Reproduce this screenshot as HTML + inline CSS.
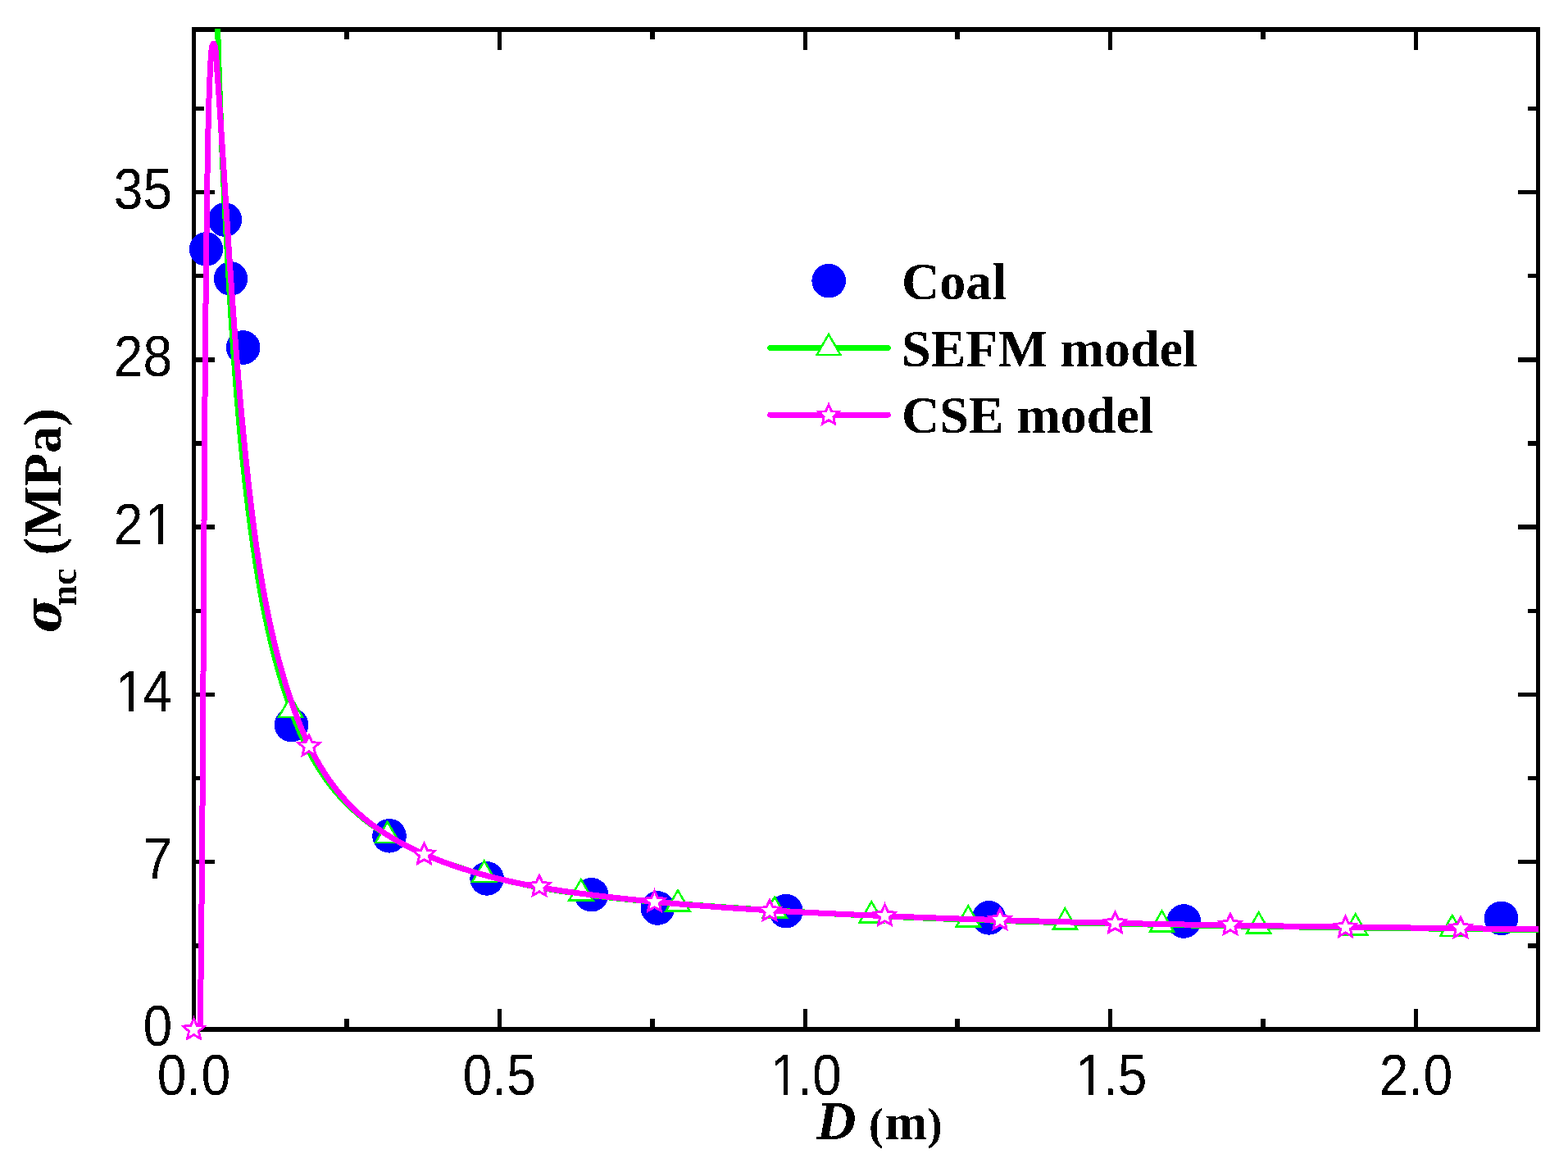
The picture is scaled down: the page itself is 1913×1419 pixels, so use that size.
<!DOCTYPE html>
<html><head><meta charset="utf-8"><title>Size effect plot</title>
<style>html,body{margin:0;padding:0;background:#fff;}body{width:1913px;height:1419px;overflow:hidden;}svg{display:block;}</style>
</head><body>
<svg width="1913" height="1419" viewBox="0 0 1913 1419" shape-rendering="crispEdges"><defs><clipPath id="pc"><rect x="236.5" y="35" width="1641.5" height="1221"/></clipPath><filter id="bin" x="0" y="0" width="1913" height="1419" filterUnits="userSpaceOnUse" color-interpolation-filters="sRGB"><feComponentTransfer><feFuncA type="discrete" tableValues="0 1"/></feComponentTransfer></filter></defs><rect width="1913" height="1419" fill="#fff"/><g fill="#000"><rect x="234" y="33" width="1645" height="6"/><rect x="234" y="1253" width="1645" height="6"/><rect x="234" y="33" width="5" height="1226"/><rect x="1874" y="33" width="5" height="1226"/><rect x="419.88" y="1243" width="6" height="13"/><rect x="419.88" y="36" width="6" height="12"/><rect x="606.75" y="1231" width="5" height="25"/><rect x="606.75" y="36" width="5" height="25"/><rect x="792.62" y="1243" width="6" height="13"/><rect x="792.62" y="36" width="6" height="12"/><rect x="979.50" y="1231" width="5" height="25"/><rect x="979.50" y="36" width="5" height="25"/><rect x="1165.38" y="1243" width="6" height="13"/><rect x="1165.38" y="36" width="6" height="12"/><rect x="1352.25" y="1231" width="5" height="25"/><rect x="1352.25" y="36" width="5" height="25"/><rect x="1538.12" y="1243" width="6" height="13"/><rect x="1538.12" y="36" width="6" height="12"/><rect x="1725.00" y="1231" width="5" height="25"/><rect x="1725.00" y="36" width="5" height="25"/><rect x="236.5" y="1151.10" width="12.5" height="5.5"/><rect x="1864.0" y="1151.10" width="12.5" height="5.5"/><rect x="236.5" y="1048.95" width="25.5" height="5.5"/><rect x="1851.8" y="1048.95" width="24.7" height="5.5"/><rect x="236.5" y="946.80" width="12.5" height="5.5"/><rect x="1864.0" y="946.80" width="12.5" height="5.5"/><rect x="236.5" y="844.65" width="25.5" height="5.5"/><rect x="1851.8" y="844.65" width="24.7" height="5.5"/><rect x="236.5" y="742.50" width="12.5" height="5.5"/><rect x="1864.0" y="742.50" width="12.5" height="5.5"/><rect x="236.5" y="640.34" width="25.5" height="5.5"/><rect x="1851.8" y="640.34" width="24.7" height="5.5"/><rect x="236.5" y="538.19" width="12.5" height="5.5"/><rect x="1864.0" y="538.19" width="12.5" height="5.5"/><rect x="236.5" y="436.04" width="25.5" height="5.5"/><rect x="1851.8" y="436.04" width="24.7" height="5.5"/><rect x="236.5" y="333.89" width="12.5" height="5.5"/><rect x="1864.0" y="333.89" width="12.5" height="5.5"/><rect x="236.5" y="231.74" width="25.5" height="5.5"/><rect x="1851.8" y="231.74" width="24.7" height="5.5"/><rect x="236.5" y="129.59" width="12.5" height="5.5"/><rect x="1864.0" y="129.59" width="12.5" height="5.5"/></g><g filter="url(#bin)"><g font-family="Liberation Sans, Arial, sans-serif" font-size="70" fill="#000"><text x="0.000 38.931 58.379" y="1335.80" transform="translate(191.835,0) scale(0.918,1)">0.0</text><text x="0.000 38.931 58.379" y="1335.80" transform="translate(564.585,0) scale(0.918,1)">0.5</text><text x="2.288 38.931 58.379" y="1335.80" transform="translate(937.335,0) scale(0.918,1)">1.0</text><text x="2.288 38.931 58.379" y="1335.80" transform="translate(1310.085,0) scale(0.918,1)">1.5</text><text x="0.000 38.931 58.379" y="1335.80" transform="translate(1682.835,0) scale(0.918,1)">2.0</text><text x="0.000" y="1276.50" transform="translate(174.562,0) scale(0.918,1)">0</text><text x="0.000" y="1072.20" transform="translate(174.562,0) scale(0.918,1)">7</text><text x="2.288 38.931" y="867.90" transform="translate(138.823,0) scale(0.918,1)">14</text><text x="0.000 41.218" y="663.59" transform="translate(138.823,0) scale(0.918,1)">21</text><text x="0.000 38.931" y="459.29" transform="translate(138.823,0) scale(0.918,1)">28</text><text x="0.000 38.931" y="254.99" transform="translate(138.823,0) scale(0.918,1)">35</text></g><g fill="#fff"><rect x="942.89" y="1329.31" width="12.68" height="7.35"/><rect x="961.30" y="1329.31" width="12.17" height="7.35"/><rect x="1315.64" y="1329.31" width="12.68" height="7.35"/><rect x="1334.05" y="1329.31" width="12.17" height="7.35"/><rect x="144.37" y="861.40" width="12.68" height="7.35"/><rect x="162.79" y="861.40" width="12.17" height="7.35"/><rect x="180.11" y="657.10" width="12.68" height="7.35"/><rect x="198.53" y="657.10" width="12.17" height="7.35"/></g><text y="1389.8" font-family="Liberation Serif, Times New Roman, serif" font-weight="bold" fill="#000"><tspan x="996" font-style="italic" font-size="67">D</tspan> <tspan x="1060" font-size="54">(</tspan><tspan x="1079.8" font-size="62">m</tspan><tspan x="1131.5" font-size="54">)</tspan></text><text transform="rotate(-90)" font-weight="bold" fill="#000"><tspan x="-772" y="73.5" font-family="DejaVu Serif, serif" font-stretch="condensed" font-style="italic" font-size="64">σ</tspan><tspan x="-739.5" y="93" font-family="Liberation Serif, serif" font-size="46">nc</tspan> <tspan x="-677.5" y="73.5" font-family="Liberation Serif, serif" font-size="66">(MPa)</tspan></text></g><g fill="#0000ff"><circle cx="251.5" cy="304" r="20.8"/><circle cx="274.4" cy="268" r="20.8"/><circle cx="281.5" cy="340" r="20.8"/><circle cx="296.7" cy="424" r="20.8"/><circle cx="355.5" cy="884.5" r="20.8"/><circle cx="475" cy="1019.8" r="20.8"/><circle cx="594.1" cy="1071.9" r="20.8"/><circle cx="721.6" cy="1091.7" r="20.8"/><circle cx="802.4" cy="1108" r="20.8"/><circle cx="958.9" cy="1111.7" r="20.8"/><circle cx="1206.5" cy="1119.9" r="20.8"/><circle cx="1444.3" cy="1124" r="20.8"/><circle cx="1831.6" cy="1120.4" r="20.8"/></g><path d="M265.33,19.96 L265.36,21.51 L265.40,23.05 L265.43,24.60 L265.47,26.15 L265.51,27.69 L265.54,29.24 L265.58,30.79 L265.62,32.33 L265.66,33.88 L265.70,35.43 L265.73,36.97 L265.77,38.52 L265.81,40.06 L265.85,41.61 L265.89,43.15 L265.93,44.70 L265.97,46.24 L266.01,47.79 L266.06,49.33 L266.10,50.88 L266.14,52.43 L266.18,53.97 L266.23,55.51 L266.27,57.06 L266.31,58.60 L266.36,60.15 L266.40,61.69 L266.45,63.24 L266.49,64.78 L266.54,66.33 L266.58,67.87 L266.63,69.42 L266.68,70.96 L266.72,72.50 L266.77,74.05 L266.82,75.59 L266.86,77.14 L266.91,78.68 L266.96,80.22 L267.01,81.77 L267.06,83.31 L267.11,84.85 L267.16,86.40 L267.21,87.94 L267.26,89.48 L267.31,91.03 L267.36,92.57 L267.41,94.11 L267.46,95.66 L267.52,97.20 L267.57,98.74 L267.62,100.29 L267.68,101.83 L267.73,103.37 L267.78,104.91 L267.84,106.46 L267.89,108.00 L267.95,109.54 L268.00,111.08 L268.06,112.63 L268.11,114.17 L268.17,115.71 L268.22,117.25 L268.28,118.80 L268.34,120.34 L268.39,121.88 L268.45,123.42 L268.51,124.97 L268.57,126.51 L268.63,128.05 L268.69,129.59 L268.74,131.13 L268.80,132.67 L268.86,134.22 L268.92,135.76 L268.98,137.30 L269.04,138.84 L269.10,140.38 L269.17,141.93 L269.23,143.47 L269.29,145.01 L269.35,146.55 L269.41,148.09 L269.48,149.63 L269.54,151.17 L269.60,152.72 L269.67,154.26 L269.73,155.80 L269.79,157.34 L269.86,158.88 L269.92,160.42 L269.99,161.96 L270.05,163.50 L270.12,165.04 L270.18,166.59 L270.25,168.13 L270.31,169.67 L270.38,171.21 L270.45,172.75 L270.51,174.29 L270.58,175.83 L270.65,177.37 L270.72,178.91 L270.79,180.45 L270.85,181.99 L270.92,183.54 L270.99,185.08 L271.06,186.62 L271.13,188.16 L271.20,189.70 L271.27,191.24 L271.34,192.78 L271.41,194.32 L271.48,195.86 L271.55,197.40 L271.62,198.94 L271.69,200.48 L271.77,202.02 L271.84,203.56 L271.91,205.10 L271.98,206.64 L272.06,208.19 L272.13,209.73 L272.20,211.27 L272.28,212.81 L272.35,214.35 L272.42,215.89 L272.50,217.43 L272.57,218.97 L272.65,220.51 L272.72,222.05 L272.80,223.59 L272.87,225.13 L272.95,226.67 L273.02,228.21 L273.10,229.75 L273.18,231.29 L273.25,232.83 L273.33,234.37 L273.41,235.91 L273.48,237.45 L273.56,238.99 L273.64,240.53 L273.72,242.07 L273.79,243.62 L273.87,245.16 L273.95,246.70 L274.03,248.24 L274.11,249.78 L274.19,251.32 L274.27,252.86 L274.35,254.40 L274.43,255.94 L274.51,257.48 L274.59,259.02 L274.67,260.56 L274.75,262.10 L274.83,263.64 L274.91,265.18 L274.99,266.72 L275.07,268.26 L275.15,269.80 L275.24,271.34 L275.32,272.88 L275.40,274.43 L275.48,275.97 L275.57,277.51 L275.65,279.05 L275.73,280.59 L275.82,282.13 L275.90,283.67 L275.98,285.21 L276.07,286.75 L276.15,288.29 L276.23,289.83 L276.32,291.37 L276.40,292.91 L276.49,294.46 L276.57,296.00 L276.66,297.54 L276.74,299.08 L276.83,300.62 L276.92,302.16 L277.00,303.70 L277.09,305.24 L277.17,306.78 L277.26,308.32 L277.35,309.87 L277.43,311.41 L277.52,312.95 L277.61,314.49 L277.70,316.03 L277.78,317.57 L277.87,319.11 L277.96,320.66 L278.05,322.20 L278.13,323.74 L278.22,325.28 L278.31,326.82 L278.40,328.36 L278.49,329.90 L278.58,331.45 L278.67,332.99 L278.76,334.53 L278.85,336.07 L278.94,337.61 L279.03,339.16 L279.12,340.70 L279.21,342.24 L279.30,343.78 L279.39,345.32 L279.48,346.86 L279.57,348.41 L279.67,349.95 L279.76,351.49 L279.85,353.03 L279.94,354.57 L280.04,356.12 L280.13,357.66 L280.22,359.20 L280.32,360.74 L280.41,362.28 L280.50,363.83 L280.60,365.37 L280.69,366.91 L280.79,368.45 L280.88,369.99 L280.98,371.54 L281.08,373.08 L281.17,374.62 L281.27,376.16 L281.37,377.70 L281.46,379.25 L281.56,380.79 L281.66,382.33 L281.76,383.87 L281.85,385.41 L281.95,386.96 L282.05,388.50 L282.15,390.04 L282.25,391.58 L282.35,393.12 L282.45,394.67 L282.55,396.21 L282.65,397.75 L282.76,399.29 L282.86,400.83 L282.96,402.38 L283.06,403.92 L283.17,405.46 L283.27,407.00 L283.37,408.54 L283.48,410.09 L283.58,411.63 L283.69,413.17 L283.79,414.71 L283.90,416.25 L284.00,417.79 L284.11,419.34 L284.22,420.88 L284.32,422.42 L284.43,423.96 L284.54,425.50 L284.65,427.04 L284.76,428.59 L284.87,430.13 L284.97,431.67 L285.08,433.21 L285.20,434.75 L285.31,436.29 L285.42,437.83 L285.53,439.37 L285.64,440.92 L285.76,442.46 L285.87,444.00 L285.98,445.54 L286.10,447.08 L286.21,448.62 L286.33,450.16 L286.44,451.70 L286.56,453.24 L286.67,454.78 L286.79,456.33 L286.91,457.87 L287.03,459.41 L287.15,460.95 L287.26,462.49 L287.38,464.03 L287.50,465.57 L287.62,467.11 L287.75,468.65 L287.87,470.19 L287.99,471.73 L288.11,473.27 L288.23,474.81 L288.36,476.35 L288.48,477.89 L288.61,479.43 L288.73,480.97 L288.86,482.51 L288.98,484.05 L289.11,485.59 L289.24,487.13 L289.37,488.67 L289.49,490.21 L289.62,491.75 L289.75,493.29 L289.88,494.82 L290.01,496.36 L290.15,497.90 L290.28,499.44 L290.41,500.98 L290.54,502.52 L290.68,504.06 L290.81,505.60 L290.95,507.14 L291.08,508.67 L291.22,510.21 L291.35,511.75 L291.49,513.29 L291.63,514.83 L291.77,516.37 L291.91,517.90 L292.05,519.44 L292.19,520.98 L292.33,522.52 L292.47,524.05 L292.61,525.59 L292.75,527.13 L292.90,528.67 L293.04,530.20 L293.19,531.74 L293.33,533.28 L293.48,534.82 L293.63,536.35 L293.77,537.89 L293.92,539.43 L294.07,540.96 L294.22,542.50 L294.37,544.03 L294.52,545.57 L294.67,547.11 L294.82,548.64 L294.98,550.18 L295.13,551.71 L295.29,553.25 L295.44,554.79 L295.60,556.32 L295.75,557.86 L295.91,559.39 L296.07,560.93 L296.23,562.46 L296.39,564.00 L296.55,565.53 L296.71,567.07 L296.87,568.60 L297.03,570.14 L297.19,571.67 L297.36,573.20 L297.52,574.74 L297.69,576.27 L297.85,577.81 L298.02,579.34 L298.19,580.87 L298.35,582.41 L298.52,583.94 L298.69,585.47 L298.86,587.01 L299.04,588.54 L299.21,590.07 L299.38,591.60 L299.55,593.14 L299.73,594.67 L299.90,596.20 L300.08,597.73 L300.26,599.27 L300.43,600.80 L300.61,602.33 L300.79,603.86 L300.97,605.39 L301.15,606.92 L301.34,608.46 L301.52,609.99 L301.70,611.52 L301.89,613.05 L302.07,614.58 L302.26,616.11 L302.44,617.64 L302.63,619.17 L302.82,620.70 L303.01,622.23 L303.20,623.76 L303.39,625.29 L303.58,626.82 L303.78,628.35 L303.97,629.88 L304.16,631.40 L304.36,632.93 L304.56,634.46 L304.75,635.99 L304.95,637.52 L305.15,639.05 L305.35,640.57 L305.55,642.10 L305.75,643.63 L305.95,645.16 L306.16,646.68 L306.36,648.21 L306.57,649.74 L306.77,651.26 L306.98,652.79 L307.19,654.32 L307.40,655.84 L307.61,657.37 L307.82,658.90 L308.03,660.42 L308.25,661.95 L308.46,663.47 L308.68,665.00 L308.90,666.52 L309.11,668.05 L309.33,669.57 L309.55,671.09 L309.78,672.62 L310.00,674.14 L310.22,675.67 L310.45,677.19 L310.68,678.71 L310.90,680.24 L311.13,681.76 L311.37,683.28 L311.60,684.80 L311.83,686.32 L312.07,687.85 L312.30,689.37 L312.54,690.89 L312.78,692.41 L313.02,693.93 L313.26,695.45 L313.51,696.97 L313.75,698.49 L314.00,700.01 L314.25,701.53 L314.50,703.05 L314.75,704.57 L315.00,706.09 L315.26,707.60 L315.51,709.12 L315.77,710.64 L316.03,712.16 L316.29,713.67 L316.56,715.19 L316.82,716.71 L317.09,718.22 L317.36,719.74 L317.63,721.26 L317.90,722.77 L318.17,724.29 L318.45,725.80 L318.73,727.31 L319.00,728.83 L319.29,730.34 L319.57,731.86 L319.85,733.37 L320.14,734.88 L320.43,736.39 L320.72,737.91 L321.01,739.42 L321.31,740.93 L321.61,742.44 L321.90,743.95 L322.21,745.46 L322.51,746.97 L322.81,748.48 L323.12,749.99 L323.43,751.50 L323.74,753.01 L324.06,754.52 L324.37,756.03 L324.69,757.53 L325.01,759.04 L325.33,760.55 L325.66,762.05 L325.98,763.56 L326.31,765.06 L326.65,766.57 L326.98,768.08 L327.32,769.58 L327.65,771.08 L328.00,772.59 L328.34,774.09 L328.69,775.59 L329.03,777.10 L329.38,778.60 L329.74,780.10 L330.09,781.60 L330.45,783.10 L330.81,784.60 L331.17,786.10 L331.54,787.60 L331.91,789.10 L332.28,790.60 L332.65,792.10 L333.03,793.60 L333.41,795.09 L333.79,796.59 L334.17,798.09 L334.56,799.58 L334.95,801.08 L335.34,802.58 L335.74,804.07 L336.13,805.56 L336.53,807.06 L336.94,808.55 L337.34,810.05 L337.75,811.54 L338.16,813.03 L338.58,814.52 L339.00,816.01 L339.42,817.50 L339.84,818.99 L340.27,820.48 L340.69,821.97 L341.13,823.46 L341.56,824.95 L342.00,826.44 L342.44,827.92 L342.88,829.41 L343.33,830.90 L343.78,832.38 L344.24,833.87 L344.69,835.35 L345.15,836.84 L345.61,838.32 L346.08,839.80 L346.55,841.29 L347.02,842.77 L347.50,844.25 L347.98,845.73 L348.46,847.21 L348.94,848.69 L349.43,850.17 L349.92,851.65 L350.42,853.12 L350.92,854.60 L351.43,856.07 L351.93,857.55 L352.44,859.02 L352.96,860.49 L353.48,861.96 L354.00,863.42 L354.53,864.89 L355.06,866.36 L355.60,867.82 L356.14,869.28 L356.68,870.74 L357.23,872.20 L357.78,873.66 L358.34,875.11 L358.90,876.56 L359.47,878.01 L360.04,879.46 L360.62,880.91 L361.20,882.35 L361.78,883.80 L362.37,885.24 L362.97,886.67 L363.57,888.11 L364.17,889.54 L364.79,890.97 L365.40,892.40 L366.02,893.83 L366.65,895.25 L367.28,896.67 L367.92,898.08 L368.56,899.50 L369.21,900.91 L369.86,902.32 L370.52,903.72 L371.18,905.12 L371.85,906.52 L372.53,907.92 L373.21,909.31 L373.90,910.70 L374.59,912.09 L375.29,913.47 L376.00,914.85 L376.71,916.22 L377.43,917.59 L378.15,918.96 L378.88,920.33 L379.62,921.69 L380.36,923.04 L381.11,924.40 L381.87,925.75 L382.63,927.09 L383.40,928.43 L384.18,929.77 L384.96,931.10 L385.75,932.43 L386.55,933.75 L387.35,935.07 L388.16,936.39 L388.98,937.70 L389.80,939.00 L390.64,940.30 L391.47,941.60 L392.32,942.89 L393.17,944.18 L394.03,945.46 L394.90,946.73 L395.77,948.00 L396.65,949.26 L397.54,950.52 L398.44,951.77 L399.34,953.02 L400.25,954.26 L401.17,955.49 L402.09,956.72 L403.02,957.93 L403.96,959.15 L404.91,960.35 L405.86,961.55 L406.82,962.74 L407.79,963.93 L408.76,965.10 L409.75,966.27 L410.74,967.43 L411.73,968.58 L412.74,969.73 L413.75,970.87 L414.77,972.00 L415.79,973.12 L416.82,974.24 L417.86,975.35 L418.91,976.45 L419.96,977.54 L421.02,978.63 L422.09,979.71 L423.16,980.78 L424.24,981.85 L425.33,982.90 L426.42,983.96 L427.52,985.00 L428.63,986.04 L429.74,987.07 L430.86,988.09 L431.98,989.10 L433.11,990.11 L434.25,991.11 L435.39,992.11 L436.54,993.10 L437.70,994.08 L438.86,995.05 L440.02,996.02 L441.20,996.98 L442.38,997.94 L443.56,998.88 L444.75,999.82 L445.95,1000.76 L447.15,1001.69 L448.35,1002.61 L449.57,1003.52 L450.79,1004.43 L452.01,1005.33 L453.24,1006.23 L454.47,1007.12 L455.71,1008.00 L456.95,1008.88 L458.20,1009.75 L459.46,1010.61 L460.72,1011.47 L461.98,1012.32 L463.25,1013.16 L464.53,1014.00 L465.81,1014.84 L467.09,1015.66 L468.38,1016.48 L469.67,1017.30 L470.97,1018.11 L472.27,1018.91 L473.58,1019.71 L474.89,1020.50 L476.21,1021.28 L477.53,1022.06 L478.86,1022.83 L480.18,1023.60 L481.52,1024.36 L482.86,1025.12 L484.20,1025.87 L485.54,1026.62 L486.89,1027.35 L488.25,1028.09 L489.61,1028.82 L490.97,1029.54 L492.33,1030.25 L493.70,1030.97 L495.07,1031.67 L496.45,1032.37 L497.83,1033.07 L499.22,1033.76 L500.60,1034.44 L501.99,1035.12 L503.39,1035.79 L504.79,1036.46 L506.19,1037.13 L507.59,1037.78 L509.00,1038.44 L510.41,1039.09 L511.82,1039.73 L513.24,1040.37 L514.66,1041.00 L516.08,1041.63 L517.51,1042.25 L518.94,1042.87 L520.37,1043.48 L521.80,1044.09 L523.24,1044.69 L524.68,1045.29 L526.12,1045.88 L527.57,1046.47 L529.02,1047.06 L530.47,1047.64 L531.92,1048.21 L533.37,1048.78 L534.83,1049.35 L536.29,1049.91 L537.75,1050.46 L539.21,1051.02 L540.68,1051.56 L542.15,1052.11 L543.62,1052.65 L545.09,1053.18 L546.56,1053.71 L548.04,1054.24 L549.52,1054.76 L550.99,1055.27 L552.48,1055.79 L553.96,1056.29 L555.44,1056.80 L556.93,1057.30 L558.41,1057.80 L559.90,1058.29 L561.39,1058.78 L562.88,1059.26 L564.38,1059.74 L565.87,1060.22 L567.37,1060.69 L568.86,1061.16 L570.36,1061.62 L571.86,1062.08 L573.36,1062.54 L574.86,1062.99 L576.36,1063.44 L577.86,1063.88 L579.36,1064.33 L580.87,1064.76 L582.37,1065.20 L583.88,1065.63 L585.38,1066.06 L586.89,1066.48 L588.39,1066.90 L589.90,1067.32 L591.41,1067.73 L592.92,1068.14 L594.42,1068.55 L595.93,1068.95 L597.44,1069.35 L598.95,1069.75 L600.46,1070.14 L601.97,1070.53 L603.48,1070.91 L604.99,1071.30 L606.50,1071.68 L608.01,1072.05 L609.52,1072.43 L611.03,1072.80 L612.55,1073.17 L614.06,1073.53 L615.57,1073.89 L617.09,1074.25 L618.60,1074.60 L620.11,1074.95 L621.63,1075.30 L623.14,1075.65 L624.66,1075.99 L626.17,1076.33 L627.69,1076.67 L629.20,1077.00 L630.72,1077.33 L632.24,1077.66 L633.75,1077.98 L635.27,1078.31 L636.79,1078.63 L638.30,1078.94 L639.82,1079.26 L641.34,1079.57 L642.86,1079.87 L644.38,1080.18 L645.90,1080.48 L647.42,1080.78 L648.93,1081.08 L650.45,1081.37 L651.97,1081.67 L653.50,1081.96 L655.02,1082.24 L656.54,1082.53 L658.06,1082.81 L659.58,1083.09 L661.10,1083.36 L662.62,1083.64 L664.15,1083.91 L665.67,1084.18 L667.19,1084.44 L668.71,1084.71 L670.24,1084.97 L671.76,1085.23 L673.29,1085.49 L674.81,1085.74 L676.33,1085.99 L677.86,1086.24 L679.38,1086.49 L680.91,1086.74 L682.43,1086.98 L683.96,1087.22 L685.48,1087.46 L687.01,1087.69 L688.54,1087.93 L690.06,1088.16 L691.59,1088.39 L693.12,1088.62 L694.64,1088.84 L696.17,1089.07 L697.70,1089.29 L699.23,1089.51 L700.75,1089.73 L702.28,1089.94 L703.81,1090.16 L705.34,1090.37 L706.87,1090.58 L708.40,1090.79 L709.93,1090.99 L711.46,1091.20 L712.99,1091.40 L714.52,1091.60 L716.05,1091.80 L717.58,1091.99 L719.11,1092.19 L720.64,1092.38 L722.17,1092.57 L723.70,1092.76 L725.23,1092.95 L726.76,1093.14 L728.29,1093.32 L729.82,1093.51 L731.35,1093.69 L732.89,1093.87 L734.42,1094.05 L735.95,1094.22 L737.48,1094.40 L739.01,1094.57 L740.55,1094.75 L742.08,1094.92 L743.61,1095.09 L745.15,1095.25 L746.68,1095.42 L748.21,1095.59 L749.75,1095.75 L751.28,1095.91 L752.81,1096.07 L754.35,1096.23 L755.88,1096.39 L757.42,1096.55 L758.95,1096.70 L760.48,1096.86 L762.02,1097.01 L763.55,1097.16 L765.09,1097.32 L766.62,1097.47 L768.16,1097.61 L769.69,1097.76 L771.23,1097.91 L772.76,1098.05 L774.30,1098.20 L775.84,1098.34 L777.37,1098.48 L778.91,1098.63 L780.44,1098.77 L781.98,1098.91 L783.51,1099.04 L785.05,1099.18 L786.59,1099.32 L788.12,1099.45 L789.66,1099.59 L791.20,1099.72 L792.73,1099.86 L794.27,1099.99 L795.81,1100.12 L797.34,1100.25 L798.88,1100.38 L800.42,1100.51 L801.95,1100.64 L803.49,1100.77 L805.03,1100.90 L806.57,1101.02 L808.10,1101.15 L809.64,1101.27 L811.18,1101.40 L812.71,1101.52 L814.25,1101.65 L815.79,1101.77 L817.33,1101.89 L818.86,1102.02 L820.40,1102.14 L821.94,1102.26 L823.48,1102.38 L825.02,1102.50 L826.55,1102.62 L828.09,1102.74 L829.63,1102.86 L831.17,1102.98 L832.70,1103.10 L834.24,1103.22 L835.78,1103.34 L837.32,1103.45 L838.86,1103.57 L840.39,1103.69 L841.93,1103.81 L843.47,1103.92 L845.01,1104.04 L846.55,1104.15 L848.09,1104.27 L849.62,1104.38 L851.16,1104.50 L852.70,1104.61 L854.24,1104.73 L855.78,1104.84 L857.31,1104.95 L858.85,1105.07 L860.39,1105.18 L861.93,1105.29 L863.47,1105.40 L865.01,1105.51 L866.55,1105.63 L868.08,1105.74 L869.62,1105.85 L871.16,1105.96 L872.70,1106.07 L874.24,1106.18 L875.78,1106.29 L877.32,1106.39 L878.85,1106.50 L880.39,1106.61 L881.93,1106.72 L883.47,1106.83 L885.01,1106.93 L886.55,1107.04 L888.09,1107.15 L889.63,1107.25 L891.17,1107.36 L892.70,1107.46 L894.24,1107.57 L895.78,1107.67 L897.32,1107.78 L898.86,1107.88 L900.40,1107.99 L901.94,1108.09 L903.48,1108.19 L905.02,1108.30 L906.56,1108.40 L908.10,1108.50 L909.63,1108.60 L911.17,1108.70 L912.71,1108.81 L914.25,1108.91 L915.79,1109.01 L917.33,1109.11 L918.87,1109.21 L920.41,1109.31 L921.95,1109.41 L923.49,1109.51 L925.03,1109.60 L926.57,1109.70 L928.11,1109.80 L929.65,1109.90 L931.19,1110.00 L932.73,1110.09 L934.27,1110.19 L935.81,1110.29 L937.35,1110.38 L938.89,1110.48 L940.43,1110.57 L941.97,1110.67 L943.50,1110.76 L945.04,1110.86 L946.58,1110.95 L948.12,1111.05 L949.66,1111.14 L951.20,1111.23 L952.74,1111.33 L954.28,1111.42 L955.82,1111.51 L957.36,1111.61 L958.90,1111.70 L960.44,1111.79 L961.98,1111.88 L963.52,1111.97 L965.06,1112.06 L966.60,1112.15 L968.14,1112.24 L969.69,1112.33 L971.23,1112.42 L972.77,1112.51 L974.31,1112.60 L975.85,1112.69 L977.39,1112.78 L978.93,1112.86 L980.47,1112.95 L982.01,1113.04 L983.55,1113.13 L985.09,1113.21 L986.63,1113.30 L988.17,1113.39 L989.71,1113.47 L991.25,1113.56 L992.79,1113.64 L994.33,1113.73 L995.87,1113.81 L997.41,1113.90 L998.95,1113.98 L1000.49,1114.07 L1002.03,1114.15 L1003.58,1114.23 L1005.12,1114.32 L1006.66,1114.40 L1008.20,1114.48 L1009.74,1114.56 L1011.28,1114.65 L1012.82,1114.73 L1014.36,1114.81 L1015.90,1114.89 L1017.44,1114.97 L1018.98,1115.05 L1020.52,1115.13 L1022.07,1115.21 L1023.61,1115.29 L1025.15,1115.37 L1026.69,1115.45 L1028.23,1115.53 L1029.77,1115.61 L1031.31,1115.69 L1032.85,1115.76 L1034.39,1115.84 L1035.93,1115.92 L1037.48,1116.00 L1039.02,1116.07 L1040.56,1116.15 L1042.10,1116.23 L1043.64,1116.30 L1045.18,1116.38 L1046.72,1116.45 L1048.26,1116.53 L1049.81,1116.60 L1051.35,1116.68 L1052.89,1116.75 L1054.43,1116.83 L1055.97,1116.90 L1057.51,1116.98 L1059.05,1117.05 L1060.60,1117.12 L1062.14,1117.20 L1063.68,1117.27 L1065.22,1117.34 L1066.76,1117.41 L1068.30,1117.49 L1069.84,1117.56 L1071.39,1117.63 L1072.93,1117.70 L1074.47,1117.77 L1076.01,1117.84 L1077.55,1117.91 L1079.09,1117.98 L1080.64,1118.05 L1082.18,1118.12 L1083.72,1118.19 L1085.26,1118.26 L1086.80,1118.33 L1088.34,1118.40 L1089.89,1118.47 L1091.43,1118.53 L1092.97,1118.60 L1094.51,1118.67 L1096.05,1118.74 L1097.60,1118.80 L1099.14,1118.87 L1100.68,1118.94 L1102.22,1119.01 L1103.76,1119.07 L1105.30,1119.14 L1106.85,1119.20 L1108.39,1119.27 L1109.93,1119.33 L1111.47,1119.40 L1113.01,1119.46 L1114.56,1119.53 L1116.10,1119.59 L1117.64,1119.66 L1119.18,1119.72 L1120.73,1119.78 L1122.27,1119.85 L1123.81,1119.91 L1125.35,1119.97 L1126.89,1120.04 L1128.44,1120.10 L1129.98,1120.16 L1131.52,1120.22 L1133.06,1120.28 L1134.60,1120.34 L1136.15,1120.41 L1137.69,1120.47 L1139.23,1120.53 L1140.77,1120.59 L1142.32,1120.65 L1143.86,1120.71 L1145.40,1120.77 L1146.94,1120.83 L1148.49,1120.89 L1150.03,1120.95 L1151.57,1121.01 L1153.11,1121.06 L1154.66,1121.12 L1156.20,1121.18 L1157.74,1121.24 L1159.28,1121.30 L1160.83,1121.35 L1162.37,1121.41 L1163.91,1121.47 L1165.45,1121.53 L1167.00,1121.58 L1168.54,1121.64 L1170.08,1121.70 L1171.62,1121.75 L1173.17,1121.81 L1174.71,1121.86 L1176.25,1121.92 L1177.79,1121.97 L1179.34,1122.03 L1180.88,1122.08 L1182.42,1122.14 L1183.96,1122.19 L1185.51,1122.25 L1187.05,1122.30 L1188.59,1122.35 L1190.14,1122.41 L1191.68,1122.46 L1193.22,1122.51 L1194.76,1122.57 L1196.31,1122.62 L1197.85,1122.67 L1199.39,1122.73 L1200.94,1122.78 L1202.48,1122.83 L1204.02,1122.88 L1205.56,1122.93 L1207.11,1122.98 L1208.65,1123.03 L1210.19,1123.09 L1211.74,1123.14 L1213.28,1123.19 L1214.82,1123.24 L1216.36,1123.29 L1217.91,1123.34 L1219.45,1123.39 L1220.99,1123.44 L1222.54,1123.49 L1224.08,1123.53 L1225.62,1123.58 L1227.17,1123.63 L1228.71,1123.68 L1230.25,1123.73 L1231.80,1123.78 L1233.34,1123.82 L1234.88,1123.87 L1236.42,1123.92 L1237.97,1123.97 L1239.51,1124.01 L1241.05,1124.06 L1242.60,1124.11 L1244.14,1124.16 L1245.68,1124.20 L1247.23,1124.25 L1248.77,1124.29 L1250.31,1124.34 L1251.86,1124.39 L1253.40,1124.43 L1254.94,1124.48 L1256.49,1124.52 L1258.03,1124.57 L1259.57,1124.61 L1261.12,1124.66 L1262.66,1124.70 L1264.20,1124.74 L1265.75,1124.79 L1267.29,1124.83 L1268.83,1124.88 L1270.38,1124.92 L1271.92,1124.96 L1273.46,1125.01 L1275.01,1125.05 L1276.55,1125.09 L1278.09,1125.13 L1279.64,1125.18 L1281.18,1125.22 L1282.72,1125.26 L1284.27,1125.30 L1285.81,1125.35 L1287.35,1125.39 L1288.90,1125.43 L1290.44,1125.47 L1291.98,1125.51 L1293.53,1125.55 L1295.07,1125.59 L1296.61,1125.63 L1298.16,1125.67 L1299.70,1125.71 L1301.25,1125.75 L1302.79,1125.79 L1304.33,1125.83 L1305.88,1125.87 L1307.42,1125.91 L1308.96,1125.95 L1310.51,1125.99 L1312.05,1126.03 L1313.59,1126.07 L1315.14,1126.11 L1316.68,1126.15 L1318.22,1126.19 L1319.77,1126.22 L1321.31,1126.26 L1322.86,1126.30 L1324.40,1126.34 L1325.94,1126.38 L1327.49,1126.41 L1329.03,1126.45 L1330.57,1126.49 L1332.12,1126.52 L1333.66,1126.56 L1335.20,1126.60 L1336.75,1126.63 L1338.29,1126.67 L1339.84,1126.71 L1341.38,1126.74 L1342.92,1126.78 L1344.47,1126.81 L1346.01,1126.85 L1347.55,1126.89 L1349.10,1126.92 L1350.64,1126.96 L1352.19,1126.99 L1353.73,1127.03 L1355.27,1127.06 L1356.82,1127.10 L1358.36,1127.13 L1359.90,1127.17 L1361.45,1127.20 L1362.99,1127.23 L1364.54,1127.27 L1366.08,1127.30 L1367.62,1127.33 L1369.17,1127.37 L1370.71,1127.40 L1372.26,1127.44 L1373.80,1127.47 L1375.34,1127.50 L1376.89,1127.53 L1378.43,1127.57 L1379.97,1127.60 L1381.52,1127.63 L1383.06,1127.66 L1384.61,1127.70 L1386.15,1127.73 L1387.69,1127.76 L1389.24,1127.79 L1390.78,1127.82 L1392.33,1127.86 L1393.87,1127.89 L1395.41,1127.92 L1396.96,1127.95 L1398.50,1127.98 L1400.05,1128.01 L1401.59,1128.04 L1403.13,1128.07 L1404.68,1128.10 L1406.22,1128.14 L1407.76,1128.17 L1409.31,1128.20 L1410.85,1128.23 L1412.40,1128.26 L1413.94,1128.29 L1415.48,1128.32 L1417.03,1128.35 L1418.57,1128.37 L1420.12,1128.40 L1421.66,1128.43 L1423.20,1128.46 L1424.75,1128.49 L1426.29,1128.52 L1427.84,1128.55 L1429.38,1128.58 L1430.92,1128.61 L1432.47,1128.64 L1434.01,1128.66 L1435.56,1128.69 L1437.10,1128.72 L1438.64,1128.75 L1440.19,1128.78 L1441.73,1128.80 L1443.28,1128.83 L1444.82,1128.86 L1446.36,1128.89 L1447.91,1128.92 L1449.45,1128.94 L1451.00,1128.97 L1452.54,1129.00 L1454.08,1129.02 L1455.63,1129.05 L1457.17,1129.08 L1458.72,1129.10 L1460.26,1129.13 L1461.80,1129.16 L1463.35,1129.18 L1464.89,1129.21 L1466.44,1129.24 L1467.98,1129.26 L1469.52,1129.29 L1471.07,1129.32 L1472.61,1129.34 L1474.16,1129.37 L1475.70,1129.39 L1477.24,1129.42 L1478.79,1129.44 L1480.33,1129.47 L1481.88,1129.49 L1483.42,1129.52 L1484.96,1129.55 L1486.51,1129.57 L1488.05,1129.60 L1489.60,1129.62 L1491.14,1129.64 L1492.68,1129.67 L1494.23,1129.69 L1495.77,1129.72 L1497.32,1129.74 L1498.86,1129.77 L1500.40,1129.79 L1501.95,1129.82 L1503.49,1129.84 L1505.04,1129.86 L1506.58,1129.89 L1508.12,1129.91 L1509.67,1129.94 L1511.21,1129.96 L1512.76,1129.98 L1514.30,1130.01 L1515.84,1130.03 L1517.39,1130.05 L1518.93,1130.08 L1520.48,1130.10 L1522.02,1130.12 L1523.56,1130.15 L1525.11,1130.17 L1526.65,1130.19 L1528.20,1130.22 L1529.74,1130.24 L1531.28,1130.26 L1532.83,1130.28 L1534.37,1130.31 L1535.91,1130.33 L1537.46,1130.35 L1539.00,1130.37 L1540.55,1130.40 L1542.09,1130.42 L1543.63,1130.44 L1545.18,1130.46 L1546.72,1130.49 L1548.27,1130.51 L1549.81,1130.53 L1551.35,1130.55 L1552.90,1130.57 L1554.44,1130.60 L1555.99,1130.62 L1557.53,1130.64 L1559.07,1130.66 L1560.62,1130.68 L1562.16,1130.70 L1563.71,1130.73 L1565.25,1130.75 L1566.79,1130.77 L1568.34,1130.79 L1569.88,1130.81 L1571.43,1130.83 L1572.97,1130.85 L1574.51,1130.87 L1576.06,1130.90 L1577.60,1130.92 L1579.14,1130.94 L1580.69,1130.96 L1582.23,1130.98 L1583.78,1131.00 L1585.32,1131.02 L1586.86,1131.04 L1588.41,1131.06 L1589.95,1131.08 L1591.50,1131.10 L1593.04,1131.12 L1594.58,1131.14 L1596.13,1131.16 L1597.67,1131.19 L1599.21,1131.21 L1600.76,1131.23 L1602.30,1131.25 L1603.85,1131.27 L1605.39,1131.29 L1606.93,1131.31 L1608.48,1131.33 L1610.02,1131.35 L1611.56,1131.37 L1613.11,1131.39 L1614.65,1131.41 L1616.20,1131.43 L1617.74,1131.45 L1619.28,1131.47 L1620.83,1131.49 L1622.37,1131.51 L1623.91,1131.53 L1625.46,1131.55 L1627.00,1131.57 L1628.55,1131.59 L1630.09,1131.60 L1631.63,1131.62 L1633.18,1131.64 L1634.72,1131.66 L1636.26,1131.68 L1637.81,1131.70 L1639.35,1131.72 L1640.89,1131.74 L1642.44,1131.76 L1643.98,1131.78 L1645.53,1131.80 L1647.07,1131.82 L1648.61,1131.84 L1650.16,1131.86 L1651.70,1131.88 L1653.24,1131.90 L1654.79,1131.92 L1656.33,1131.93 L1657.87,1131.95 L1659.42,1131.97 L1660.96,1131.99 L1662.50,1132.01 L1664.05,1132.03 L1665.59,1132.05 L1667.14,1132.07 L1668.68,1132.09 L1670.22,1132.11 L1671.77,1132.13 L1673.31,1132.14 L1674.85,1132.16 L1676.40,1132.18 L1677.94,1132.20 L1679.48,1132.22 L1681.03,1132.24 L1682.57,1132.26 L1684.11,1132.28 L1685.66,1132.30 L1687.20,1132.32 L1688.74,1132.34 L1690.29,1132.35 L1691.83,1132.37 L1693.37,1132.39 L1694.92,1132.41 L1696.46,1132.43 L1698.00,1132.45 L1699.55,1132.47 L1701.09,1132.49 L1702.63,1132.51 L1704.18,1132.52 L1705.72,1132.54 L1707.26,1132.56 L1708.81,1132.58 L1710.35,1132.60 L1711.89,1132.62 L1713.44,1132.64 L1714.98,1132.66 L1716.52,1132.68 L1718.07,1132.70 L1719.61,1132.71 L1721.15,1132.73 L1722.70,1132.75 L1724.24,1132.77 L1725.78,1132.79 L1727.32,1132.81 L1728.87,1132.83 L1730.41,1132.85 L1731.95,1132.87 L1733.50,1132.89 L1735.04,1132.90 L1736.58,1132.92 L1738.13,1132.94 L1739.67,1132.96 L1741.21,1132.98 L1742.76,1133.00 L1744.30,1133.02 L1745.84,1133.04 L1747.38,1133.06 L1748.93,1133.08 L1750.47,1133.10 L1752.01,1133.12 L1753.56,1133.14 L1755.10,1133.15 L1756.64,1133.17 L1758.18,1133.19 L1759.73,1133.21 L1761.27,1133.23 L1762.81,1133.25 L1764.36,1133.27 L1765.90,1133.29 L1767.44,1133.31 L1768.98,1133.33 L1770.53,1133.35 L1772.07,1133.37 L1773.61,1133.39 L1775.16,1133.41 L1776.70,1133.43 L1778.24,1133.45 L1779.78,1133.47 L1781.33,1133.49 L1782.87,1133.51 L1784.41,1133.53 L1785.95,1133.55 L1787.50,1133.57 L1789.04,1133.59 L1790.58,1133.61 L1792.12,1133.63 L1793.67,1133.65 L1795.21,1133.67 L1796.75,1133.69 L1798.30,1133.71 L1799.84,1133.73 L1801.38,1133.75 L1802.92,1133.77 L1804.47,1133.79 L1806.01,1133.81 L1807.55,1133.83 L1809.09,1133.85 L1810.64,1133.87 L1812.18,1133.89 L1813.72,1133.91 L1815.26,1133.93 L1816.80,1133.95 L1818.35,1133.97 L1819.89,1133.99 L1821.43,1134.01 L1822.97,1134.04 L1824.52,1134.06 L1826.06,1134.08 L1827.60,1134.10 L1829.14,1134.12 L1830.69,1134.14 L1832.23,1134.16 L1833.77,1134.18 L1835.31,1134.20 L1836.85,1134.23 L1838.40,1134.25 L1839.94,1134.27 L1841.48,1134.29 L1843.02,1134.31 L1844.56,1134.33 L1846.11,1134.36 L1847.65,1134.38 L1849.19,1134.40 L1850.73,1134.42 L1852.27,1134.44 L1853.82,1134.46 L1855.36,1134.49 L1856.90,1134.51 L1858.44,1134.53 L1859.98,1134.55 L1861.53,1134.58 L1863.07,1134.60 L1864.61,1134.62 L1866.15,1134.64 L1867.69,1134.67 L1869.24,1134.69 L1870.78,1134.71 L1872.32,1134.73 L1873.86,1134.76 L1875.40,1134.78 L1876.94,1134.80" fill="none" stroke="#00ff00" stroke-width="7" stroke-linejoin="round" clip-path="url(#pc)"/><g fill="#fff" stroke="#00ff00" stroke-width="2.5" stroke-linejoin="miter"><path d="M354.60,849.64 L369.20,874.93 L340.00,874.93Z"/><path d="M472.70,1002.84 L487.30,1028.13 L458.10,1028.13Z"/><path d="M590.80,1050.49 L605.40,1075.78 L576.20,1075.78Z"/><path d="M708.90,1073.14 L723.50,1098.43 L694.30,1098.43Z"/><path d="M827.00,1086.24 L841.60,1111.53 L812.40,1111.53Z"/><path d="M945.10,1094.44 L959.70,1119.73 L930.50,1119.73Z"/><path d="M1063.20,1100.24 L1077.80,1125.53 L1048.60,1125.53Z"/><path d="M1181.30,1105.39 L1195.90,1130.68 L1166.70,1130.68Z"/><path d="M1299.40,1108.44 L1314.00,1133.73 L1284.80,1133.73Z"/><path d="M1417.50,1111.44 L1432.10,1136.73 L1402.90,1136.73Z"/><path d="M1535.60,1113.24 L1550.20,1138.53 L1521.00,1138.53Z"/><path d="M1653.70,1115.39 L1668.30,1140.68 L1639.10,1140.68Z"/><path d="M1771.80,1116.84 L1786.40,1142.13 L1757.20,1142.13Z"/></g><path d="M244.21,1257.02 L244.24,1254.74 L244.27,1252.47 L244.30,1250.19 L244.33,1247.91 L244.36,1245.64 L244.39,1243.36 L244.43,1241.08 L244.46,1238.81 L244.49,1236.53 L244.52,1234.25 L244.55,1231.98 L244.58,1229.70 L244.61,1227.42 L244.64,1225.15 L244.67,1222.87 L244.70,1220.59 L244.73,1218.32 L244.76,1216.04 L244.78,1213.76 L244.81,1211.49 L244.84,1209.21 L244.87,1206.93 L244.90,1204.66 L244.93,1202.38 L244.95,1200.11 L244.98,1197.83 L245.01,1195.55 L245.04,1193.28 L245.07,1191.00 L245.09,1188.72 L245.12,1186.45 L245.15,1184.17 L245.17,1181.89 L245.20,1179.62 L245.23,1177.34 L245.25,1175.07 L245.28,1172.79 L245.30,1170.51 L245.33,1168.24 L245.36,1165.96 L245.38,1163.68 L245.41,1161.41 L245.43,1159.13 L245.46,1156.86 L245.48,1154.58 L245.51,1152.30 L245.53,1150.03 L245.56,1147.75 L245.58,1145.47 L245.60,1143.20 L245.63,1140.92 L245.65,1138.65 L245.68,1136.37 L245.70,1134.09 L245.72,1131.82 L245.75,1129.54 L245.77,1127.27 L245.79,1124.99 L245.82,1122.71 L245.84,1120.44 L245.86,1118.16 L245.88,1115.89 L245.91,1113.61 L245.93,1111.33 L245.95,1109.06 L245.97,1106.78 L246.00,1104.51 L246.02,1102.23 L246.04,1099.95 L246.06,1097.68 L246.08,1095.40 L246.10,1093.13 L246.13,1090.85 L246.15,1088.58 L246.17,1086.30 L246.19,1084.02 L246.21,1081.75 L246.23,1079.47 L246.25,1077.20 L246.27,1074.92 L246.29,1072.64 L246.31,1070.37 L246.33,1068.09 L246.35,1065.82 L246.37,1063.54 L246.39,1061.27 L246.41,1058.99 L246.43,1056.71 L246.45,1054.44 L246.47,1052.16 L246.49,1049.89 L246.51,1047.61 L246.53,1045.34 L246.54,1043.06 L246.56,1040.79 L246.58,1038.51 L246.60,1036.23 L246.62,1033.96 L246.64,1031.68 L246.66,1029.41 L246.67,1027.13 L246.69,1024.86 L246.71,1022.58 L246.73,1020.30 L246.75,1018.03 L246.76,1015.75 L246.78,1013.48 L246.80,1011.20 L246.82,1008.93 L246.83,1006.65 L246.85,1004.38 L246.87,1002.10 L246.88,999.83 L246.90,997.55 L246.92,995.27 L246.93,993.00 L246.95,990.72 L246.97,988.45 L246.98,986.17 L247.00,983.90 L247.02,981.62 L247.03,979.35 L247.05,977.07 L247.07,974.80 L247.08,972.52 L247.10,970.24 L247.11,967.97 L247.13,965.69 L247.14,963.42 L247.16,961.14 L247.18,958.87 L247.19,956.59 L247.21,954.32 L247.22,952.04 L247.24,949.77 L247.25,947.49 L247.27,945.22 L247.28,942.94 L247.30,940.67 L247.31,938.39 L247.33,936.11 L247.34,933.84 L247.36,931.56 L247.37,929.29 L247.39,927.01 L247.40,924.74 L247.41,922.46 L247.43,920.19 L247.44,917.91 L247.46,915.64 L247.47,913.36 L247.49,911.09 L247.50,908.81 L247.51,906.54 L247.53,904.26 L247.54,901.99 L247.56,899.71 L247.57,897.43 L247.58,895.16 L247.60,892.88 L247.61,890.61 L247.62,888.33 L247.64,886.06 L247.65,883.78 L247.67,881.51 L247.68,879.23 L247.69,876.96 L247.71,874.68 L247.72,872.41 L247.73,870.13 L247.75,867.86 L247.76,865.58 L247.77,863.31 L247.78,861.03 L247.80,858.76 L247.81,856.48 L247.82,854.21 L247.84,851.93 L247.85,849.66 L247.86,847.38 L247.87,845.11 L247.89,842.83 L247.90,840.56 L247.91,838.28 L247.93,836.01 L247.94,833.73 L247.95,831.45 L247.96,829.18 L247.98,826.90 L247.99,824.63 L248.00,822.35 L248.01,820.08 L248.03,817.80 L248.04,815.53 L248.05,813.25 L248.06,810.98 L248.08,808.70 L248.09,806.43 L248.10,804.15 L248.11,801.88 L248.13,799.60 L248.14,797.33 L248.15,795.05 L248.16,792.78 L248.17,790.50 L248.19,788.23 L248.20,785.95 L248.21,783.68 L248.22,781.40 L248.23,779.13 L248.25,776.85 L248.26,774.58 L248.27,772.30 L248.28,770.03 L248.30,767.75 L248.31,765.48 L248.32,763.20 L248.33,760.93 L248.34,758.65 L248.36,756.38 L248.37,754.10 L248.38,751.82 L248.39,749.55 L248.40,747.27 L248.42,745.00 L248.43,742.72 L248.44,740.45 L248.45,738.17 L248.46,735.90 L248.48,733.62 L248.49,731.35 L248.50,729.07 L248.51,726.80 L248.53,724.52 L248.54,722.25 L248.55,719.97 L248.56,717.70 L248.57,715.42 L248.59,713.15 L248.60,710.87 L248.61,708.60 L248.62,706.32 L248.63,704.05 L248.65,701.77 L248.66,699.50 L248.67,697.22 L248.68,694.95 L248.70,692.67 L248.71,690.40 L248.72,688.12 L248.73,685.84 L248.75,683.57 L248.76,681.29 L248.77,679.02 L248.78,676.74 L248.80,674.47 L248.81,672.19 L248.82,669.92 L248.83,667.64 L248.85,665.37 L248.86,663.09 L248.87,660.82 L248.88,658.54 L248.90,656.27 L248.91,653.99 L248.92,651.72 L248.93,649.44 L248.95,647.17 L248.96,644.89 L248.97,642.62 L248.99,640.34 L249.00,638.06 L249.01,635.79 L249.03,633.51 L249.04,631.24 L249.05,628.96 L249.07,626.69 L249.08,624.41 L249.09,622.14 L249.11,619.86 L249.12,617.59 L249.13,615.31 L249.15,613.04 L249.16,610.76 L249.17,608.48 L249.19,606.21 L249.20,603.93 L249.21,601.66 L249.23,599.38 L249.24,597.11 L249.26,594.83 L249.27,592.56 L249.28,590.28 L249.30,588.01 L249.31,585.73 L249.33,583.46 L249.34,581.18 L249.35,578.90 L249.37,576.63 L249.38,574.35 L249.40,572.08 L249.41,569.80 L249.43,567.53 L249.44,565.25 L249.46,562.98 L249.47,560.70 L249.49,558.42 L249.50,556.15 L249.52,553.87 L249.53,551.60 L249.55,549.32 L249.56,547.05 L249.58,544.77 L249.59,542.50 L249.61,540.22 L249.62,537.94 L249.64,535.67 L249.65,533.39 L249.67,531.12 L249.69,528.84 L249.70,526.57 L249.72,524.29 L249.73,522.01 L249.75,519.74 L249.77,517.46 L249.78,515.19 L249.80,512.91 L249.81,510.64 L249.83,508.36 L249.85,506.08 L249.86,503.81 L249.88,501.53 L249.90,499.26 L249.92,496.98 L249.93,494.71 L249.95,492.43 L249.97,490.15 L249.98,487.88 L250.00,485.60 L250.02,483.33 L250.04,481.05 L250.05,478.78 L250.07,476.50 L250.09,474.22 L250.11,471.95 L250.13,469.67 L250.14,467.40 L250.16,465.12 L250.18,462.84 L250.20,460.57 L250.22,458.29 L250.24,456.02 L250.26,453.74 L250.27,451.46 L250.29,449.19 L250.31,446.91 L250.33,444.64 L250.35,442.36 L250.37,440.08 L250.39,437.81 L250.41,435.53 L250.43,433.26 L250.45,430.98 L250.47,428.70 L250.49,426.43 L250.51,424.15 L250.53,421.87 L250.55,419.60 L250.57,417.32 L250.59,415.05 L250.61,412.77 L250.63,410.49 L250.65,408.22 L250.68,405.94 L250.70,403.66 L250.72,401.39 L250.74,399.11 L250.76,396.84 L250.78,394.56 L250.81,392.28 L250.83,390.01 L250.85,387.73 L250.87,385.45 L250.89,383.18 L250.92,380.90 L250.94,378.62 L250.96,376.35 L250.99,374.07 L251.01,371.80 L251.03,369.52 L251.05,367.24 L251.08,364.97 L251.10,362.69 L251.13,360.41 L251.15,358.14 L251.17,355.86 L251.20,353.58 L251.22,351.31 L251.25,349.03 L251.27,346.75 L251.30,344.48 L251.32,342.20 L251.35,339.92 L251.37,337.65 L251.40,335.37 L251.42,333.09 L251.45,330.82 L251.47,328.54 L251.50,326.26 L251.52,323.99 L251.55,321.71 L251.58,319.43 L251.60,317.16 L251.63,314.88 L251.66,312.60 L251.68,310.32 L251.71,308.05 L251.74,305.77 L251.77,303.49 L251.79,301.22 L251.82,298.94 L251.85,296.66 L251.88,294.39 L251.91,292.11 L251.93,289.83 L251.96,287.56 L251.99,285.28 L252.02,283.00 L252.05,280.72 L252.08,278.45 L252.11,276.17 L252.14,273.89 L252.17,271.62 L252.20,269.34 L252.23,267.06 L252.26,264.78 L252.29,262.51 L252.32,260.23 L252.35,257.95 L252.38,255.67 L252.41,253.40 L252.44,251.12 L252.47,248.84 L252.50,246.56 L252.54,244.29 L252.57,242.01 L252.60,239.73 L252.63,237.45 L252.67,235.18 L252.70,232.90 L252.73,230.62 L252.76,228.34 L252.80,226.07 L252.83,223.79 L252.86,221.51 L252.90,219.23 L252.93,216.96 L252.97,214.68 L253.00,212.40 L253.04,210.12 L253.07,207.85 L253.11,205.57 L253.14,203.29 L253.18,201.01 L253.22,198.74 L253.25,196.46 L253.29,194.18 L253.33,191.91 L253.37,189.63 L253.41,187.35 L253.45,185.08 L253.49,182.80 L253.53,180.52 L253.58,178.25 L253.62,175.97 L253.67,173.70 L253.71,171.42 L253.76,169.15 L253.80,166.87 L253.85,164.60 L253.90,162.32 L253.95,160.05 L254.00,157.78 L254.05,155.50 L254.11,153.23 L254.16,150.96 L254.22,148.68 L254.27,146.41 L254.33,144.14 L254.39,141.87 L254.45,139.60 L254.51,137.33 L254.57,135.06 L254.64,132.79 L254.70,130.52 L254.77,128.25 L254.84,125.98 L254.91,123.71 L254.98,121.45 L255.06,119.18 L255.13,116.91 L255.21,114.65 L255.29,112.38 L255.37,110.12 L255.45,107.85 L255.53,105.59 L255.62,103.32 L255.70,101.06 L255.80,98.80 L255.89,96.53 L255.99,94.26 L256.09,91.99 L256.19,89.73 L256.30,87.45 L256.41,85.18 L256.53,82.90 L256.65,80.62 L256.78,78.34 L256.92,76.06 L257.05,73.77 L257.20,71.48 L257.35,69.18 L257.51,66.88 L257.67,64.58 L257.85,62.27 L258.08,59.97 L258.46,57.69 L259.05,55.46 L259.92,53.46 L260.96,53.51 L261.89,55.53 L262.52,57.75 L262.91,60.02 L263.16,62.31 L263.34,64.60 L263.51,66.90 L263.69,69.19 L263.86,71.48 L264.03,73.76 L264.20,76.05 L264.36,78.33 L264.53,80.61 L264.69,82.89 L264.86,85.16 L265.02,87.44 L265.18,89.71 L265.34,91.99 L265.50,94.26 L265.66,96.53 L265.82,98.80 L265.98,101.06 L266.13,103.33 L266.29,105.60 L266.45,107.87 L266.60,110.13 L266.76,112.40 L266.91,114.67 L267.07,116.94 L267.22,119.20 L267.37,121.47 L267.53,123.74 L267.68,126.01 L267.83,128.28 L267.98,130.54 L268.14,132.81 L268.29,135.08 L268.44,137.35 L268.59,139.62 L268.74,141.88 L268.89,144.15 L269.04,146.42 L269.19,148.69 L269.34,150.96 L269.49,153.23 L269.64,155.49 L269.79,157.76 L269.93,160.03 L270.08,162.30 L270.23,164.57 L270.38,166.84 L270.52,169.11 L270.67,171.37 L270.82,173.64 L270.97,175.91 L271.11,178.18 L271.26,180.45 L271.41,182.72 L271.55,184.99 L271.70,187.26 L271.84,189.53 L271.99,191.80 L272.14,194.07 L272.28,196.33 L272.43,198.60 L272.57,200.87 L272.72,203.14 L272.86,205.41 L273.01,207.68 L273.15,209.95 L273.30,212.22 L273.44,214.49 L273.59,216.76 L273.74,219.03 L273.88,221.30 L274.03,223.57 L274.17,225.84 L274.32,228.11 L274.46,230.38 L274.61,232.65 L274.75,234.92 L274.90,237.19 L275.04,239.46 L275.19,241.73 L275.33,244.00 L275.48,246.27 L275.62,248.54 L275.77,250.81 L275.92,253.08 L276.06,255.35 L276.21,257.62 L276.35,259.89 L276.50,262.16 L276.65,264.43 L276.79,266.70 L276.94,268.97 L277.09,271.24 L277.23,273.51 L277.38,275.78 L277.53,278.05 L277.68,280.32 L277.82,282.59 L277.97,284.86 L278.12,287.13 L278.27,289.40 L278.42,291.67 L278.57,293.94 L278.72,296.21 L278.87,298.48 L279.01,300.75 L279.16,303.02 L279.32,305.29 L279.47,307.56 L279.62,309.83 L279.77,312.10 L279.92,314.37 L280.07,316.64 L280.22,318.91 L280.38,321.18 L280.53,323.45 L280.68,325.72 L280.84,327.99 L280.99,330.26 L281.15,332.53 L281.30,334.80 L281.46,337.07 L281.61,339.34 L281.77,341.61 L281.92,343.88 L282.08,346.15 L282.24,348.42 L282.40,350.69 L282.55,352.96 L282.71,355.23 L282.87,357.50 L283.03,359.77 L283.19,362.04 L283.35,364.31 L283.52,366.58 L283.68,368.85 L283.84,371.12 L284.00,373.39 L284.17,375.66 L284.33,377.93 L284.49,380.20 L284.66,382.47 L284.83,384.74 L284.99,387.01 L285.16,389.28 L285.33,391.55 L285.49,393.82 L285.66,396.09 L285.83,398.36 L286.00,400.63 L286.17,402.90 L286.34,405.17 L286.52,407.44 L286.69,409.71 L286.86,411.98 L287.04,414.25 L287.21,416.52 L287.39,418.79 L287.56,421.06 L287.74,423.33 L287.92,425.60 L288.09,427.87 L288.27,430.14 L288.45,432.41 L288.63,434.67 L288.81,436.94 L289.00,439.21 L289.18,441.48 L289.36,443.75 L289.55,446.02 L289.73,448.29 L289.92,450.56 L290.11,452.83 L290.29,455.10 L290.48,457.37 L290.67,459.63 L290.86,461.90 L291.05,464.17 L291.24,466.44 L291.44,468.71 L291.63,470.98 L291.82,473.25 L292.02,475.51 L292.22,477.78 L292.41,480.05 L292.61,482.32 L292.81,484.59 L293.01,486.86 L293.21,489.12 L293.41,491.39 L293.62,493.66 L293.82,495.93 L294.03,498.20 L294.23,500.46 L294.44,502.73 L294.65,505.00 L294.86,507.27 L295.07,509.53 L295.28,511.80 L295.49,514.07 L295.70,516.34 L295.92,518.60 L296.13,520.87 L296.35,523.14 L296.57,525.41 L296.79,527.67 L297.01,529.94 L297.23,532.21 L297.45,534.47 L297.67,536.74 L297.90,539.01 L298.12,541.27 L298.35,543.54 L298.57,545.81 L298.80,548.07 L299.03,550.34 L299.26,552.61 L299.50,554.87 L299.73,557.14 L299.96,559.40 L300.20,561.67 L300.44,563.94 L300.68,566.20 L300.92,568.47 L301.16,570.73 L301.40,573.00 L301.64,575.26 L301.89,577.53 L302.13,579.79 L302.38,582.06 L302.63,584.32 L302.88,586.59 L303.13,588.85 L303.38,591.12 L303.64,593.38 L303.89,595.65 L304.15,597.91 L304.41,600.18 L304.67,602.44 L304.93,604.71 L305.19,606.97 L305.45,609.24 L305.72,611.50 L305.99,613.76 L306.26,616.03 L306.53,618.29 L306.80,620.55 L307.07,622.81 L307.35,625.08 L307.63,627.34 L307.91,629.60 L308.19,631.86 L308.48,634.12 L308.76,636.38 L309.05,638.65 L309.34,640.91 L309.64,643.17 L309.93,645.42 L310.23,647.68 L310.53,649.94 L310.83,652.20 L311.14,654.46 L311.45,656.72 L311.76,658.97 L312.07,661.23 L312.39,663.48 L312.70,665.74 L313.03,667.99 L313.35,670.25 L313.68,672.50 L314.01,674.75 L314.34,677.01 L314.68,679.26 L315.02,681.51 L315.36,683.76 L315.70,686.01 L316.05,688.26 L316.40,690.51 L316.76,692.76 L317.12,695.00 L317.48,697.25 L317.85,699.50 L318.21,701.74 L318.59,703.99 L318.96,706.23 L319.34,708.47 L319.73,710.71 L320.11,712.95 L320.50,715.19 L320.90,717.43 L321.30,719.67 L321.70,721.91 L322.10,724.15 L322.51,726.38 L322.93,728.62 L323.35,730.85 L323.77,733.09 L324.20,735.32 L324.63,737.55 L325.06,739.78 L325.50,742.01 L325.95,744.24 L326.39,746.46 L326.85,748.69 L327.30,750.91 L327.76,753.14 L328.23,755.36 L328.70,757.58 L329.18,759.80 L329.66,762.02 L330.14,764.24 L330.63,766.46 L331.13,768.67 L331.63,770.89 L332.13,773.10 L332.64,775.32 L333.16,777.53 L333.68,779.74 L334.20,781.94 L334.73,784.15 L335.27,786.36 L335.81,788.56 L336.35,790.77 L336.90,792.97 L337.46,795.17 L338.02,797.37 L338.59,799.57 L339.16,801.76 L339.74,803.96 L340.33,806.15 L340.92,808.35 L341.51,810.54 L342.11,812.73 L342.72,814.91 L343.34,817.10 L343.95,819.29 L344.58,821.47 L345.21,823.65 L345.85,825.83 L346.49,828.01 L347.14,830.19 L347.80,832.36 L348.46,834.54 L349.13,836.71 L349.80,838.88 L350.48,841.05 L351.17,843.22 L351.87,845.39 L352.57,847.55 L353.28,849.71 L353.99,851.87 L354.72,854.03 L355.45,856.18 L356.19,858.33 L356.93,860.48 L357.69,862.63 L358.45,864.77 L359.22,866.91 L360.00,869.05 L360.80,871.18 L361.59,873.31 L362.40,875.44 L363.22,877.56 L364.05,879.68 L364.89,881.79 L365.74,883.91 L366.60,886.01 L367.47,888.11 L368.35,890.21 L369.24,892.30 L370.14,894.39 L371.06,896.47 L371.98,898.55 L372.92,900.62 L373.87,902.69 L374.84,904.75 L375.81,906.81 L376.80,908.86 L377.80,910.90 L378.81,912.94 L379.84,914.97 L380.88,917.00 L381.93,919.02 L383.00,921.03 L384.08,923.04 L385.17,925.04 L386.28,927.03 L387.41,929.01 L388.55,930.99 L389.70,932.96 L390.87,934.93 L392.05,936.88 L393.25,938.83 L394.47,940.77 L395.70,942.70 L396.95,944.63 L398.21,946.54 L399.49,948.44 L400.78,950.33 L402.09,952.21 L403.41,954.09 L404.75,955.94 L406.10,957.79 L407.47,959.63 L408.86,961.45 L410.26,963.26 L411.68,965.06 L413.11,966.84 L414.56,968.61 L416.03,970.36 L417.51,972.10 L419.00,973.82 L420.51,975.53 L422.04,977.22 L423.58,978.90 L425.14,980.55 L426.72,982.20 L428.31,983.82 L429.92,985.42 L431.54,987.01 L433.18,988.58 L434.83,990.13 L436.50,991.66 L438.18,993.18 L439.88,994.68 L441.59,996.16 L443.32,997.63 L445.06,999.07 L446.81,1000.50 L448.58,1001.92 L450.36,1003.32 L452.15,1004.70 L453.96,1006.06 L455.78,1007.41 L457.61,1008.75 L459.45,1010.06 L461.30,1011.37 L463.17,1012.65 L465.05,1013.92 L466.94,1015.18 L468.84,1016.42 L470.75,1017.65 L472.67,1018.86 L474.60,1020.05 L476.54,1021.24 L478.49,1022.40 L480.45,1023.56 L482.42,1024.70 L484.40,1025.82 L486.39,1026.94 L488.38,1028.03 L490.39,1029.12 L492.40,1030.19 L494.42,1031.25 L496.45,1032.30 L498.48,1033.33 L500.53,1034.35 L502.58,1035.36 L504.63,1036.35 L506.70,1037.33 L508.77,1038.30 L510.84,1039.26 L512.92,1040.21 L515.01,1041.14 L517.10,1042.07 L519.20,1042.98 L521.30,1043.88 L523.41,1044.77 L525.52,1045.65 L527.64,1046.52 L529.76,1047.37 L531.88,1048.22 L534.01,1049.06 L536.14,1049.88 L538.28,1050.70 L540.41,1051.50 L542.55,1052.30 L544.69,1053.08 L546.84,1053.86 L548.99,1054.63 L551.14,1055.39 L553.29,1056.13 L555.44,1056.87 L557.60,1057.60 L559.76,1058.32 L561.92,1059.03 L564.09,1059.73 L566.26,1060.43 L568.43,1061.11 L570.60,1061.79 L572.77,1062.45 L574.95,1063.11 L577.13,1063.76 L579.31,1064.40 L581.49,1065.04 L583.67,1065.66 L585.86,1066.28 L588.05,1066.89 L590.24,1067.49 L592.44,1068.08 L594.63,1068.67 L596.83,1069.25 L599.03,1069.82 L601.23,1070.38 L603.43,1070.93 L605.64,1071.48 L607.84,1072.02 L610.05,1072.55 L612.26,1073.08 L614.47,1073.60 L616.69,1074.11 L618.90,1074.62 L621.12,1075.12 L623.34,1075.61 L625.56,1076.09 L627.78,1076.57 L630.00,1077.04 L632.23,1077.51 L634.45,1077.97 L636.68,1078.42 L638.91,1078.87 L641.14,1079.31 L643.37,1079.75 L645.61,1080.18 L647.84,1080.60 L650.08,1081.02 L652.32,1081.43 L654.56,1081.84 L656.79,1082.24 L659.04,1082.64 L661.28,1083.03 L663.52,1083.42 L665.77,1083.80 L668.01,1084.18 L670.26,1084.55 L672.51,1084.91 L674.75,1085.28 L677.00,1085.63 L679.25,1085.99 L681.50,1086.34 L683.76,1086.68 L686.01,1087.02 L688.26,1087.36 L690.52,1087.69 L692.77,1088.01 L695.03,1088.34 L697.29,1088.66 L699.54,1088.97 L701.80,1089.29 L704.06,1089.60 L706.32,1089.90 L708.58,1090.20 L710.84,1090.50 L713.10,1090.80 L715.36,1091.09 L717.63,1091.38 L719.89,1091.66 L722.15,1091.95 L724.41,1092.23 L726.68,1092.51 L728.94,1092.78 L731.21,1093.05 L733.47,1093.32 L735.73,1093.59 L738.00,1093.86 L740.26,1094.12 L742.53,1094.38 L744.79,1094.64 L747.06,1094.90 L749.32,1095.15 L751.59,1095.41 L753.86,1095.66 L756.12,1095.91 L758.39,1096.15 L760.65,1096.40 L762.92,1096.64 L765.18,1096.89 L767.45,1097.13 L769.72,1097.36 L771.98,1097.60 L774.25,1097.84 L776.52,1098.07 L778.78,1098.30 L781.05,1098.53 L783.32,1098.76 L785.58,1098.98 L787.85,1099.21 L790.12,1099.43 L792.38,1099.65 L794.65,1099.87 L796.92,1100.09 L799.18,1100.30 L801.45,1100.52 L803.72,1100.73 L805.99,1100.94 L808.25,1101.15 L810.52,1101.36 L812.79,1101.56 L815.06,1101.77 L817.32,1101.97 L819.59,1102.17 L821.86,1102.37 L824.13,1102.57 L826.39,1102.76 L828.66,1102.96 L830.93,1103.15 L833.20,1103.34 L835.47,1103.53 L837.73,1103.72 L840.00,1103.91 L842.27,1104.10 L844.54,1104.28 L846.81,1104.46 L849.08,1104.65 L851.35,1104.83 L853.61,1105.01 L855.88,1105.18 L858.15,1105.36 L860.42,1105.53 L862.69,1105.71 L864.96,1105.88 L867.23,1106.05 L869.50,1106.22 L871.77,1106.39 L874.04,1106.55 L876.31,1106.72 L878.57,1106.88 L880.84,1107.05 L883.11,1107.21 L885.38,1107.37 L887.65,1107.53 L889.92,1107.68 L892.19,1107.84 L894.46,1108.00 L896.73,1108.15 L899.00,1108.30 L901.27,1108.45 L903.54,1108.60 L905.81,1108.75 L908.08,1108.90 L910.35,1109.05 L912.62,1109.20 L914.89,1109.34 L917.16,1109.48 L919.43,1109.63 L921.70,1109.77 L923.97,1109.91 L926.24,1110.05 L928.52,1110.19 L930.79,1110.33 L933.06,1110.46 L935.33,1110.60 L937.60,1110.73 L939.87,1110.87 L942.14,1111.00 L944.41,1111.13 L946.68,1111.26 L948.95,1111.39 L951.22,1111.52 L953.49,1111.65 L955.77,1111.77 L958.04,1111.90 L960.31,1112.02 L962.58,1112.15 L964.85,1112.27 L967.12,1112.39 L969.39,1112.52 L971.67,1112.64 L973.94,1112.76 L976.21,1112.88 L978.48,1112.99 L980.75,1113.11 L983.02,1113.23 L985.30,1113.34 L987.57,1113.46 L989.84,1113.57 L992.11,1113.69 L994.38,1113.80 L996.65,1113.91 L998.93,1114.02 L1001.20,1114.14 L1003.47,1114.25 L1005.74,1114.36 L1008.01,1114.46 L1010.29,1114.57 L1012.56,1114.68 L1014.83,1114.79 L1017.10,1114.89 L1019.38,1115.00 L1021.65,1115.10 L1023.92,1115.21 L1026.19,1115.31 L1028.46,1115.42 L1030.74,1115.52 L1033.01,1115.62 L1035.28,1115.72 L1037.55,1115.83 L1039.83,1115.93 L1042.10,1116.03 L1044.37,1116.13 L1046.65,1116.23 L1048.92,1116.33 L1051.19,1116.42 L1053.46,1116.52 L1055.74,1116.62 L1058.01,1116.72 L1060.28,1116.81 L1062.55,1116.91 L1064.83,1117.01 L1067.10,1117.10 L1069.37,1117.20 L1071.65,1117.29 L1073.92,1117.39 L1076.19,1117.48 L1078.47,1117.57 L1080.74,1117.67 L1083.01,1117.76 L1085.28,1117.85 L1087.56,1117.94 L1089.83,1118.03 L1092.10,1118.13 L1094.38,1118.22 L1096.65,1118.31 L1098.92,1118.40 L1101.20,1118.48 L1103.47,1118.57 L1105.74,1118.66 L1108.02,1118.75 L1110.29,1118.84 L1112.56,1118.92 L1114.84,1119.01 L1117.11,1119.10 L1119.38,1119.18 L1121.66,1119.27 L1123.93,1119.35 L1126.21,1119.44 L1128.48,1119.52 L1130.75,1119.61 L1133.03,1119.69 L1135.30,1119.77 L1137.57,1119.86 L1139.85,1119.94 L1142.12,1120.02 L1144.39,1120.10 L1146.67,1120.18 L1148.94,1120.27 L1151.22,1120.35 L1153.49,1120.43 L1155.76,1120.51 L1158.04,1120.59 L1160.31,1120.66 L1162.59,1120.74 L1164.86,1120.82 L1167.13,1120.90 L1169.41,1120.98 L1171.68,1121.05 L1173.96,1121.13 L1176.23,1121.21 L1178.50,1121.28 L1180.78,1121.36 L1183.05,1121.43 L1185.33,1121.51 L1187.60,1121.58 L1189.87,1121.66 L1192.15,1121.73 L1194.42,1121.81 L1196.70,1121.88 L1198.97,1121.95 L1201.25,1122.02 L1203.52,1122.10 L1205.79,1122.17 L1208.07,1122.24 L1210.34,1122.31 L1212.62,1122.38 L1214.89,1122.45 L1217.17,1122.52 L1219.44,1122.59 L1221.72,1122.66 L1223.99,1122.73 L1226.26,1122.80 L1228.54,1122.87 L1230.81,1122.93 L1233.09,1123.00 L1235.36,1123.07 L1237.64,1123.14 L1239.91,1123.20 L1242.19,1123.27 L1244.46,1123.33 L1246.74,1123.40 L1249.01,1123.47 L1251.28,1123.53 L1253.56,1123.60 L1255.83,1123.66 L1258.11,1123.72 L1260.38,1123.79 L1262.66,1123.85 L1264.93,1123.91 L1267.21,1123.98 L1269.48,1124.04 L1271.76,1124.10 L1274.03,1124.16 L1276.31,1124.22 L1278.58,1124.29 L1280.86,1124.35 L1283.13,1124.41 L1285.41,1124.47 L1287.68,1124.53 L1289.96,1124.59 L1292.23,1124.65 L1294.51,1124.71 L1296.78,1124.76 L1299.06,1124.82 L1301.33,1124.88 L1303.61,1124.94 L1305.88,1125.00 L1308.16,1125.05 L1310.43,1125.11 L1312.71,1125.17 L1314.98,1125.22 L1317.26,1125.28 L1319.53,1125.34 L1321.81,1125.39 L1324.08,1125.45 L1326.36,1125.50 L1328.63,1125.56 L1330.91,1125.61 L1333.18,1125.67 L1335.46,1125.72 L1337.73,1125.77 L1340.01,1125.83 L1342.28,1125.88 L1344.56,1125.93 L1346.83,1125.99 L1349.11,1126.04 L1351.39,1126.09 L1353.66,1126.14 L1355.94,1126.19 L1358.21,1126.24 L1360.49,1126.30 L1362.76,1126.35 L1365.04,1126.40 L1367.31,1126.45 L1369.59,1126.50 L1371.86,1126.55 L1374.14,1126.60 L1376.41,1126.65 L1378.69,1126.70 L1380.96,1126.74 L1383.24,1126.79 L1385.52,1126.84 L1387.79,1126.89 L1390.07,1126.94 L1392.34,1126.98 L1394.62,1127.03 L1396.89,1127.08 L1399.17,1127.13 L1401.44,1127.17 L1403.72,1127.22 L1405.99,1127.26 L1408.27,1127.31 L1410.55,1127.36 L1412.82,1127.40 L1415.10,1127.45 L1417.37,1127.49 L1419.65,1127.54 L1421.92,1127.58 L1424.20,1127.62 L1426.47,1127.67 L1428.75,1127.71 L1431.03,1127.76 L1433.30,1127.80 L1435.58,1127.84 L1437.85,1127.89 L1440.13,1127.93 L1442.40,1127.97 L1444.68,1128.01 L1446.95,1128.06 L1449.23,1128.10 L1451.51,1128.14 L1453.78,1128.18 L1456.06,1128.22 L1458.33,1128.26 L1460.61,1128.30 L1462.88,1128.35 L1465.16,1128.39 L1467.43,1128.43 L1469.71,1128.47 L1471.99,1128.51 L1474.26,1128.55 L1476.54,1128.59 L1478.81,1128.62 L1481.09,1128.66 L1483.36,1128.70 L1485.64,1128.74 L1487.92,1128.78 L1490.19,1128.82 L1492.47,1128.86 L1494.74,1128.90 L1497.02,1128.93 L1499.29,1128.97 L1501.57,1129.01 L1503.85,1129.05 L1506.12,1129.08 L1508.40,1129.12 L1510.67,1129.16 L1512.95,1129.19 L1515.22,1129.23 L1517.50,1129.27 L1519.77,1129.30 L1522.05,1129.34 L1524.33,1129.37 L1526.60,1129.41 L1528.88,1129.45 L1531.15,1129.48 L1533.43,1129.52 L1535.70,1129.55 L1537.98,1129.59 L1540.26,1129.62 L1542.53,1129.66 L1544.81,1129.69 L1547.08,1129.72 L1549.36,1129.76 L1551.63,1129.79 L1553.91,1129.83 L1556.19,1129.86 L1558.46,1129.89 L1560.74,1129.93 L1563.01,1129.96 L1565.29,1129.99 L1567.56,1130.03 L1569.84,1130.06 L1572.11,1130.09 L1574.39,1130.12 L1576.67,1130.16 L1578.94,1130.19 L1581.22,1130.22 L1583.49,1130.25 L1585.77,1130.28 L1588.04,1130.32 L1590.32,1130.35 L1592.59,1130.38 L1594.87,1130.41 L1597.15,1130.44 L1599.42,1130.47 L1601.70,1130.50 L1603.97,1130.54 L1606.25,1130.57 L1608.52,1130.60 L1610.80,1130.63 L1613.07,1130.66 L1615.35,1130.69 L1617.63,1130.72 L1619.90,1130.75 L1622.18,1130.78 L1624.45,1130.81 L1626.73,1130.84 L1629.00,1130.87 L1631.28,1130.90 L1633.55,1130.93 L1635.83,1130.96 L1638.11,1130.99 L1640.38,1131.02 L1642.66,1131.05 L1644.93,1131.07 L1647.21,1131.10 L1649.48,1131.13 L1651.76,1131.16 L1654.03,1131.19 L1656.31,1131.22 L1658.58,1131.25 L1660.86,1131.28 L1663.13,1131.30 L1665.41,1131.33 L1667.69,1131.36 L1669.96,1131.39 L1672.24,1131.42 L1674.51,1131.44 L1676.79,1131.47 L1679.06,1131.50 L1681.34,1131.53 L1683.61,1131.56 L1685.89,1131.58 L1688.16,1131.61 L1690.44,1131.64 L1692.71,1131.67 L1694.99,1131.69 L1697.26,1131.72 L1699.54,1131.75 L1701.81,1131.77 L1704.09,1131.80 L1706.37,1131.83 L1708.64,1131.86 L1710.92,1131.88 L1713.19,1131.91 L1715.47,1131.94 L1717.74,1131.96 L1720.02,1131.99 L1722.29,1132.02 L1724.57,1132.04 L1726.84,1132.07 L1729.12,1132.10 L1731.39,1132.12 L1733.67,1132.15 L1735.94,1132.18 L1738.22,1132.20 L1740.49,1132.23 L1742.77,1132.25 L1745.04,1132.28 L1747.32,1132.31 L1749.59,1132.33 L1751.87,1132.36 L1754.14,1132.39 L1756.42,1132.41 L1758.69,1132.44 L1760.97,1132.46 L1763.24,1132.49 L1765.52,1132.52 L1767.79,1132.54 L1770.07,1132.57 L1772.34,1132.59 L1774.61,1132.62 L1776.89,1132.65 L1779.16,1132.67 L1781.44,1132.70 L1783.71,1132.72 L1785.99,1132.75 L1788.26,1132.78 L1790.54,1132.80 L1792.81,1132.83 L1795.09,1132.85 L1797.36,1132.88 L1799.64,1132.91 L1801.91,1132.93 L1804.19,1132.96 L1806.46,1132.98 L1808.73,1133.01 L1811.01,1133.03 L1813.28,1133.06 L1815.56,1133.09 L1817.83,1133.11 L1820.11,1133.14 L1822.38,1133.16 L1824.66,1133.19 L1826.93,1133.22 L1829.20,1133.24 L1831.48,1133.27 L1833.75,1133.29 L1836.03,1133.32 L1838.30,1133.35 L1840.58,1133.37 L1842.85,1133.40 L1845.12,1133.42 L1847.40,1133.45 L1849.67,1133.48 L1851.95,1133.50 L1854.22,1133.53 L1856.50,1133.55 L1858.77,1133.58 L1861.04,1133.61 L1863.32,1133.63 L1865.59,1133.66 L1867.87,1133.69 L1870.14,1133.71 L1872.41,1133.74 L1874.69,1133.77 L1876.96,1133.79" fill="none" stroke="#ff00ff" stroke-width="7" stroke-linejoin="round" clip-path="url(#pc)"/><path d="M236.50,1239.30 L241.20,1249.83 L252.67,1251.05 L244.11,1258.77 L246.49,1270.05 L236.50,1264.30 L226.51,1270.05 L228.89,1258.77 L220.33,1251.05 L231.80,1249.83Z" fill="#ff00ff"/><path d="M236.50,1246.30 L239.20,1252.58 L246.01,1253.21 L240.87,1257.72 L242.38,1264.39 L236.50,1260.90 L230.62,1264.39 L232.13,1257.72 L226.99,1253.21 L233.80,1252.58Z" fill="#fff"/><path d="M377.00,893.60 L381.70,904.13 L393.17,905.35 L384.61,913.07 L386.99,924.35 L377.00,918.60 L367.01,924.35 L369.39,913.07 L360.83,905.35 L372.30,904.13Z" fill="#ff00ff"/><path d="M377.00,900.60 L379.70,906.88 L386.51,907.51 L381.37,912.02 L382.88,918.69 L377.00,915.20 L371.12,918.69 L372.63,912.02 L367.49,907.51 L374.30,906.88Z" fill="#fff"/><path d="M517.50,1025.50 L522.20,1036.03 L533.67,1037.25 L525.11,1044.97 L527.49,1056.25 L517.50,1050.50 L507.51,1056.25 L509.89,1044.97 L501.33,1037.25 L512.80,1036.03Z" fill="#ff00ff"/><path d="M517.50,1032.50 L520.20,1038.78 L527.01,1039.41 L521.87,1043.92 L523.38,1050.59 L517.50,1047.10 L511.62,1050.59 L513.13,1043.92 L507.99,1039.41 L514.80,1038.78Z" fill="#fff"/><path d="M658.00,1064.50 L662.70,1075.03 L674.17,1076.25 L665.61,1083.97 L667.99,1095.25 L658.00,1089.50 L648.01,1095.25 L650.39,1083.97 L641.83,1076.25 L653.30,1075.03Z" fill="#ff00ff"/><path d="M658.00,1071.50 L660.70,1077.78 L667.51,1078.41 L662.37,1082.92 L663.88,1089.59 L658.00,1086.10 L652.12,1089.59 L653.63,1082.92 L648.49,1078.41 L655.30,1077.78Z" fill="#fff"/><path d="M798.50,1083.40 L803.20,1093.93 L814.67,1095.15 L806.11,1102.87 L808.49,1114.15 L798.50,1108.40 L788.51,1114.15 L790.89,1102.87 L782.33,1095.15 L793.80,1093.93Z" fill="#ff00ff"/><path d="M798.50,1090.40 L801.20,1096.68 L808.01,1097.31 L802.87,1101.82 L804.38,1108.49 L798.50,1105.00 L792.62,1108.49 L794.13,1101.82 L788.99,1097.31 L795.80,1096.68Z" fill="#fff"/><path d="M939.00,1094.60 L943.70,1105.13 L955.17,1106.35 L946.61,1114.07 L948.99,1125.35 L939.00,1119.60 L929.01,1125.35 L931.39,1114.07 L922.83,1106.35 L934.30,1105.13Z" fill="#ff00ff"/><path d="M939.00,1101.60 L941.70,1107.88 L948.51,1108.51 L943.37,1113.02 L944.88,1119.69 L939.00,1116.20 L933.12,1119.69 L934.63,1113.02 L929.49,1108.51 L936.30,1107.88Z" fill="#fff"/><path d="M1079.50,1100.40 L1084.20,1110.93 L1095.67,1112.15 L1087.11,1119.87 L1089.49,1131.15 L1079.50,1125.40 L1069.51,1131.15 L1071.89,1119.87 L1063.33,1112.15 L1074.80,1110.93Z" fill="#ff00ff"/><path d="M1079.50,1107.40 L1082.20,1113.68 L1089.01,1114.31 L1083.87,1118.82 L1085.38,1125.49 L1079.50,1122.00 L1073.62,1125.49 L1075.13,1118.82 L1069.99,1114.31 L1076.80,1113.68Z" fill="#fff"/><path d="M1220.00,1105.50 L1224.70,1116.03 L1236.17,1117.25 L1227.61,1124.97 L1229.99,1136.25 L1220.00,1130.50 L1210.01,1136.25 L1212.39,1124.97 L1203.83,1117.25 L1215.30,1116.03Z" fill="#ff00ff"/><path d="M1220.00,1112.50 L1222.70,1118.78 L1229.51,1119.41 L1224.37,1123.92 L1225.88,1130.59 L1220.00,1127.10 L1214.12,1130.59 L1215.63,1123.92 L1210.49,1119.41 L1217.30,1118.78Z" fill="#fff"/><path d="M1360.50,1109.50 L1365.20,1120.03 L1376.67,1121.25 L1368.11,1128.97 L1370.49,1140.25 L1360.50,1134.50 L1350.51,1140.25 L1352.89,1128.97 L1344.33,1121.25 L1355.80,1120.03Z" fill="#ff00ff"/><path d="M1360.50,1116.50 L1363.20,1122.78 L1370.01,1123.41 L1364.87,1127.92 L1366.38,1134.59 L1360.50,1131.10 L1354.62,1134.59 L1356.13,1127.92 L1350.99,1123.41 L1357.80,1122.78Z" fill="#fff"/><path d="M1501.00,1111.50 L1505.70,1122.03 L1517.17,1123.25 L1508.61,1130.97 L1510.99,1142.25 L1501.00,1136.50 L1491.01,1142.25 L1493.39,1130.97 L1484.83,1123.25 L1496.30,1122.03Z" fill="#ff00ff"/><path d="M1501.00,1118.50 L1503.70,1124.78 L1510.51,1125.41 L1505.37,1129.92 L1506.88,1136.59 L1501.00,1133.10 L1495.12,1136.59 L1496.63,1129.92 L1491.49,1125.41 L1498.30,1124.78Z" fill="#fff"/><path d="M1641.50,1114.60 L1646.20,1125.13 L1657.67,1126.35 L1649.11,1134.07 L1651.49,1145.35 L1641.50,1139.60 L1631.51,1145.35 L1633.89,1134.07 L1625.33,1126.35 L1636.80,1125.13Z" fill="#ff00ff"/><path d="M1641.50,1121.60 L1644.20,1127.88 L1651.01,1128.51 L1645.87,1133.02 L1647.38,1139.69 L1641.50,1136.20 L1635.62,1139.69 L1637.13,1133.02 L1631.99,1128.51 L1638.80,1127.88Z" fill="#fff"/><path d="M1782.00,1115.50 L1786.70,1126.03 L1798.17,1127.25 L1789.61,1134.97 L1791.99,1146.25 L1782.00,1140.50 L1772.01,1146.25 L1774.39,1134.97 L1765.83,1127.25 L1777.30,1126.03Z" fill="#ff00ff"/><path d="M1782.00,1122.50 L1784.70,1128.78 L1791.51,1129.41 L1786.37,1133.92 L1787.88,1140.59 L1782.00,1137.10 L1776.12,1140.59 L1777.63,1133.92 L1772.49,1129.41 L1779.30,1128.78Z" fill="#fff"/><circle cx="1011.2" cy="342.7" r="20.8" fill="#0000ff"/><line x1="939.5" y1="424.5" x2="1083.5" y2="424.5" stroke="#00ff00" stroke-width="6.7" stroke-linecap="round"/><path d="M1011.00,407.94 L1025.60,433.23 L996.40,433.23Z" fill="#fff" stroke="#00ff00" stroke-width="2.5"/><line x1="939.5" y1="506.3" x2="1083.5" y2="506.3" stroke="#ff00ff" stroke-width="6.7" stroke-linecap="round"/><path d="M1011.00,490.37 L1015.49,500.42 L1026.44,501.58 L1018.27,508.96 L1020.54,519.73 L1011.00,514.24 L1001.46,519.73 L1003.73,508.96 L995.56,501.58 L1006.51,500.42Z" fill="#ff00ff"/><path d="M1011.00,497.05 L1013.58,503.05 L1020.08,503.65 L1015.18,507.96 L1016.61,514.33 L1011.00,510.99 L1005.39,514.33 L1006.82,507.96 L1001.92,503.65 L1008.42,503.05Z" fill="#fff"/><g filter="url(#bin)"><g font-family="Liberation Serif, Times New Roman, serif" font-weight="bold" font-size="64" fill="#000"><text x="1100" y="365">Coal</text><text x="1100" y="446.6">SEFM model</text><text x="1100" y="528.3">CSE model</text></g></g></svg>
</body></html>
